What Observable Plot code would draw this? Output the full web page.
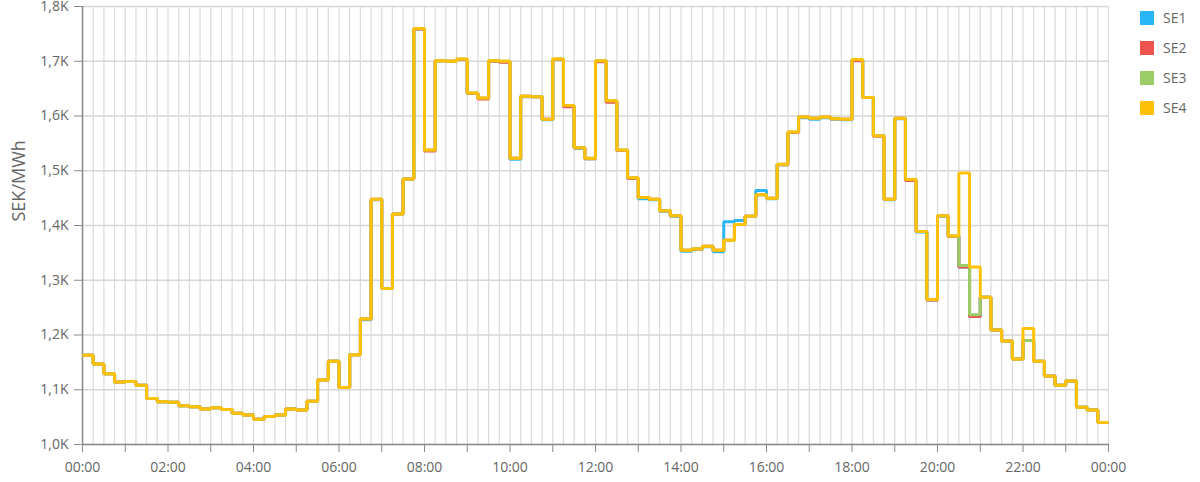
<!DOCTYPE html>
<html>
<head>
<meta charset="utf-8">
<script src="https://cdn.jsdelivr.net/npm/d3@7"></script>
<script src="https://cdn.jsdelivr.net/npm/@observablehq/plot@0.6"></script>
<style>
  html, body { margin: 0; padding: 0; background: #fff; }
  #wrap { position: relative; width: 1200px; height: 482px; font-family: "Open Sans", sans-serif; }
  #legend { position: absolute; left: 1140px; top: 0; }
  .item { position: absolute; left: 0; width: 80px; height: 14px; }
  .sw { position: absolute; left: 0; top: 0; width: 14px; height: 14px; }
  .lb { position: absolute; left: 23px; top: -3px; font-size: 14px; color: #666; line-height: 20px; }
</style>
</head>
<body>
<div id="wrap"><div id="chart"></div><div id="legend"></div></div>
<script>
// 15-minute slots, hours from 00:00
const slotHours = d3.range(97).map(i => i / 4);
const seriesNames = ["SE1", "SE2", "SE3", "SE4"];
const seriesColors = ["#29b6f6", "#ef5350", "#9ccc65", "#ffc107"];
const yTicks = [1000, 1100, 1200, 1300, 1400, 1500, 1600, 1700, 1800];
const xLabelHours = [0, 2, 4, 6, 8, 10, 12, 14, 16, 18, 20, 22, 24];

const SE4 = [1163,1147,1129,1114,1115,1108,1084,1078,
             1077,1071,1069,1065,1067,1064,1057,1054,
             1046,1051,1054,1065,1063,1079,1118,1152,
             1104,1164,1229,1448,1285,1421,1485,1760,
             1538,1701,1700,1704,1642,1633,1701,1700,
             1523,1636,1635,1594,1704,1619,1542,1523,
             1701,1628,1538,1487,1451,1448,1427,1418,
             1355,1357,1362,1355,1373,1402,1417,1456,
             1450,1512,1571,1598,1596,1598,1595,1594,
             1703,1634,1564,1448,1596,1484,1389,1265,
             1418,1381,1496,1324,1269,1209,1189,1156,
             1212,1152,1125,1108,1116,1068,1063,1040];
const SE3 = [1163,1147,1129,1114,1115,1108,1084,1078,
             1077,1071,1069,1065,1067,1064,1057,1054,
             1046,1051,1054,1065,1063,1079,1118,1152,
             1104,1164,1229,1448,1285,1421,1485,1760,
             1538,1701,1700,1704,1642,1633,1701,1700,
             1523,1636,1635,1594,1704,1619,1542,1523,
             1701,1628,1538,1487,1451,1448,1427,1418,
             1355,1357,1362,1355,1373,1402,1417,1456,
             1450,1512,1571,1598,1596,1598,1595,1594,
             1703,1634,1564,1448,1596,1484,1389,1265,
             1418,1381,1327,1237,1269,1209,1189,1156,
             1190,1152,1125,1108,1116,1068,1063,1040];
const SE2 = [1163,1147,1129,1114,1115,1108,1084,1078,
             1077,1071,1069,1065,1067,1064,1057,1054,
             1046,1051,1054,1065,1063,1079,1118,1152,
             1104,1164,1229,1448,1285,1421,1485,1759,
             1536,1701,1700,1703,1641,1631,1700,1698,
             1523,1636,1635,1594,1703,1617,1542,1522,
             1699,1625,1537,1486,1451,1448,1427,1418,
             1355,1357,1362,1355,1373,1402,1417,1456,
             1450,1511,1570,1598,1596,1598,1595,1594,
             1701,1634,1563,1448,1596,1482,1389,1264,
             1418,1380,1324,1234,1269,1209,1189,1156,
             1190,1152,1125,1108,1116,1068,1063,1040];
const SE1 = [1163,1147,1129,1114,1115,1108,1084,1078,
             1077,1071,1069,1065,1067,1064,1057,1054,
             1046,1051,1054,1065,1063,1079,1118,1152,
             1104,1164,1228,1447,1285,1421,1485,1759,
             1537,1701,1700,1703,1641,1632,1700,1699,
             1521,1635,1635,1593,1703,1618,1541,1522,
             1700,1627,1537,1486,1449,1447,1426,1417,
             1353,1356,1361,1352,1407,1409,1417,1464,
             1449,1511,1570,1597,1594,1597,1594,1593,
             1702,1634,1564,1447,1595,1483,1388,1264,
             1417,1380,1324,1234,1269,1209,1189,1156,
             1190,1152,1125,1108,1116,1068,1063,1040];
const seriesValues = [SE1, SE2, SE3, SE4];

// Build long table; the last slot is extended to 24:00
const rows = [];
seriesNames.forEach((name, s) => {
  const vals = seriesValues[s];
  slotHours.forEach((h, i) => rows.push({series: name, hour: h, value: vals[Math.min(i, vals.length - 1)]}));
});

const fmtY = d => (d / 1000).toFixed(1).replace(".", ",") + "K";
const fmtX = h => xLabelHours.includes(h) ? String(h % 24).padStart(2, "0") + ":00" : "";

const chart = Plot.plot({
  width: 1200,
  height: 482,
  marginLeft: 82,
  marginRight: 92,
  marginTop: 6,
  marginBottom: 38,
  style: {fontFamily: "'Open Sans', sans-serif", fontSize: "14px", background: "#fff"},
  x: {domain: [0, 24]},
  y: {domain: [1000, 1800]},
  color: {domain: seriesNames, range: seriesColors},
  marks: [
    Plot.gridX(slotHours, {stroke: "#dadada", strokeOpacity: 1, strokeWidth: 1.2}),
    Plot.gridY(yTicks, {stroke: "#d6d6d6", strokeOpacity: 1, strokeWidth: 1.4}),
    Plot.axisY({ticks: yTicks, tickFormat: fmtY, tickSize: 8, tickPadding: 6, stroke: "#8a8a8a", fill: "#666", fontSize: 14, label: null}),
    Plot.axisX({ticks: d3.range(0, 25, 1), tickFormat: fmtX, tickSize: 8, tickPadding: 10, stroke: "#8a8a8a", fill: "#666", fontSize: 14, label: null}),
    Plot.ruleX([0], {stroke: "#8a8a8a", strokeWidth: 1.5}),
    Plot.ruleY([1000], {stroke: "#8a8a8a", strokeWidth: 1.5}),
    Plot.line(rows, {x: "hour", y: "value", z: "series", stroke: "series", curve: "step-after", strokeWidth: 3, strokeLinejoin: "miter", strokeLinecap: "butt"}),
    Plot.text(["SEK/MWh"], {frameAnchor: "left", dx: -63, dy: -4, rotate: -90, fontSize: 18, fill: "#666"})
  ]
});
document.getElementById("chart").appendChild(chart);

const legend = document.getElementById("legend");
seriesNames.forEach((name, i) => {
  const item = document.createElement("div");
  item.className = "item";
  item.style.top = (11 + i * 30) + "px";
  item.innerHTML = `<div class="sw" style="background:${seriesColors[i]}"></div><div class="lb">${name}</div>`;
  legend.appendChild(item);
});
</script>
</body>
</html>
